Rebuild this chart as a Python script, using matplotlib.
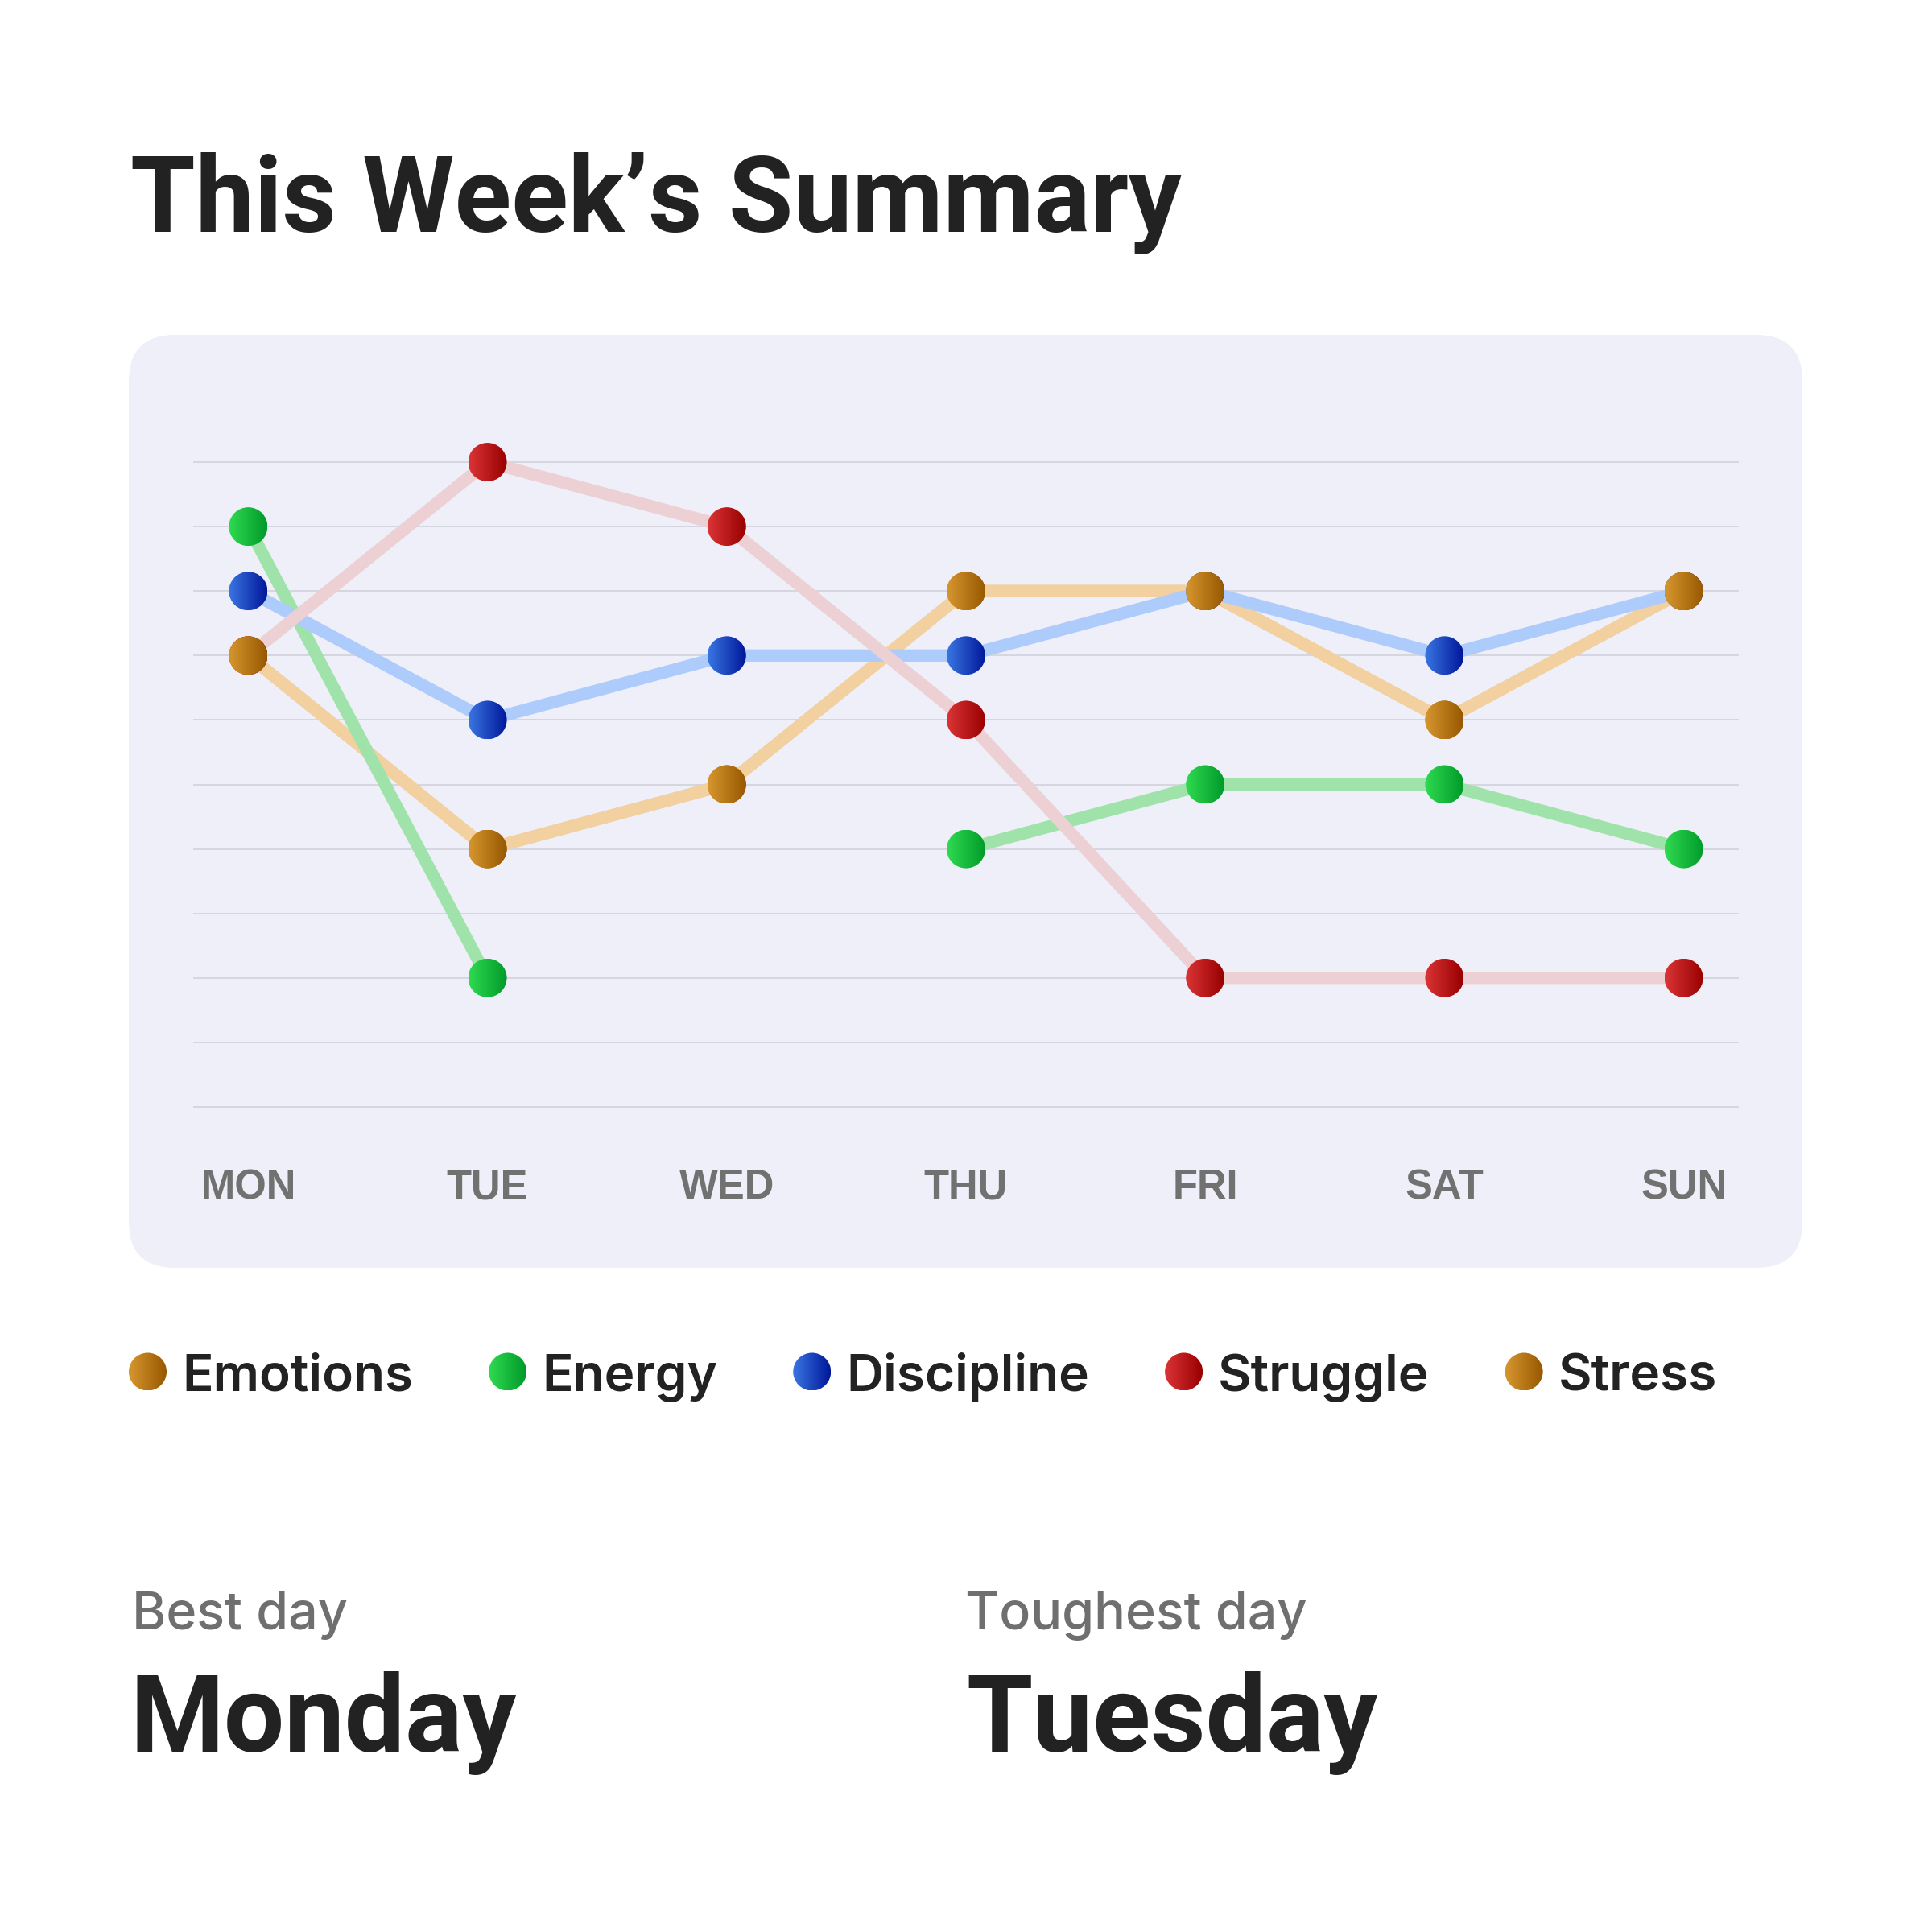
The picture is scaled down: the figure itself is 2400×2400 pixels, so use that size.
import numpy as np
import matplotlib
matplotlib.use('Agg')
import matplotlib.pyplot as plt
from matplotlib.patches import FancyBboxPatch, Ellipse
from matplotlib.colors import to_rgb

# data (scale 0-10)
days = ['MON', 'TUE', 'WED', 'THU', 'FRI', 'SAT', 'SUN']
series_names = ['Emotions', 'Energy', 'Discipline', 'Struggle', 'Stress']
emotions = [7, 4, 5, 8, 8, 6, 8]
energy = [9, 2, np.nan, 4, 5, 5, 4]
discipline = [8, 6, 7, 7, 8, 7, 8]
struggle = [7, 10, 9, 6, 2, 2, 2]
stress = [7, 4, 5, 8, 8, 6, 8]
best_day = 'Monday'
toughest_day = 'Tuesday'

series = {'Emotions': emotions, 'Energy': energy, 'Discipline': discipline,
          'Struggle': struggle, 'Stress': stress}
line_col = {'Emotions': '#f2d09f', 'Energy': '#9fe3aa', 'Discipline': '#adcbfb',
            'Struggle': '#edd0d3', 'Stress': '#f2d09f'}
ball_col = {'Emotions': ('#d6962f', '#975800'), 'Energy': ('#30da50', '#009a2a'),
            'Discipline': ('#3a76e2', '#00179a'), 'Struggle': ('#da3436', '#990000'),
            'Stress': ('#d6962f', '#975800')}

W = 2400
DARK = '#222222'
GRAY = '#6f6f6f'
FONT = 'Inter'
HEAD = 'Roboto'


def fx(px):
    return px / W


def fy(py):
    return 1 - py / W


def ball(ax, x, y, rx, ry, c1, c2, z):
    t = np.linspace(0, 1, 64)[:, None]
    img = (np.array(to_rgb(c1)) * (1 - t) + np.array(to_rgb(c2)) * t)[None, :, :]
    im = ax.imshow(img, extent=(x - rx, x + rx, y - ry, y + ry), aspect='auto',
                   interpolation='bilinear', zorder=z, origin='lower')
    im.set_clip_path(Ellipse((x, y), 2 * rx, 2 * ry, transform=ax.transData))


fig = plt.figure(figsize=(24, 24), dpi=100)
fig.patch.set_facecolor('white')

# rounded panel
panel = FancyBboxPatch((fx(160), fy(1575)), (2239 - 160) / W, (1575 - 416) / W,
                       boxstyle='round,pad=0,rounding_size=0.024',
                       transform=fig.transFigure, facecolor='#eeeff8',
                       edgecolor='none', zorder=0)
fig.add_artist(panel)

# chart
ax = fig.add_axes([fx(240), fy(1415), 1920 / W, 881 / W])
ax.set_facecolor('none')
ax.set_xlim(-0.23, 6.23)
ax.set_ylim(-0.5, 10.5)
for s in ax.spines.values():
    s.set_visible(False)
ax.set_yticks([])
ax.set_xticks(range(len(days)), days)
ax.tick_params(axis='x', length=0, pad=26, labelsize=36.5, labelcolor='#717171')
for lab in ax.get_xticklabels():
    lab.set_fontfamily('Liberation Sans')
    lab.set_fontweight('bold')

for v in range(11):
    ax.axhline(v, color='#d6d6e0', lw=1.4, zorder=1)

x = np.arange(len(days))
for name in ['Emotions', 'Stress', 'Energy', 'Discipline', 'Struggle']:
    ax.plot(x, series[name], color=line_col[name], lw=11, zorder=2,
            solid_capstyle='butt')

o = ax.transData.transform((0, 0))
sx = ax.transData.transform((1, 0))[0] - o[0]
sy = ax.transData.transform((0, 1))[1] - o[1]
r = 24
for k, name in enumerate(series_names):
    c1, c2 = ball_col[name]
    for xi, yi in zip(x, series[name]):
        if np.isnan(yi):
            continue
        ball(ax, xi, yi, r / sx, r / sy, c1, c2, 3 + k)
ax.set_xlim(-0.23, 6.23)
ax.set_ylim(-0.5, 10.5)

# overlay for title, legend and summary
lax = fig.add_axes([0, 0, 1, 1])
lax.set_xlim(0, W)
lax.set_ylim(W, 0)
lax.axis('off')
lax.patch.set_visible(False)

lax.text(162, 288, 'This Week\u2019s Summary', fontsize=94, fontweight='bold',
         family=HEAD, color=DARK, va='baseline', ha='left')

renderer = fig.canvas.get_renderer()
xpos = 160
for name in series_names:
    c1, c2 = ball_col[name]
    ball(lax, xpos + 23.5, 1704, 23.5, 23.5, c1, c2, 5)
    t = lax.text(xpos + 66, 1728, name, fontsize=46, fontweight='semibold',
                 family=FONT, color=DARK, va='baseline', ha='left')
    bb = t.get_window_extent(renderer)
    xpos = bb.x1 + 94
lax.set_xlim(0, W)
lax.set_ylim(W, 0)

lax.text(164, 2024, 'Best day', fontsize=46.5, fontweight='medium', family=FONT,
         color=GRAY, va='baseline')
lax.text(1199, 2024, 'Toughest day', fontsize=46.5, fontweight='medium', family=FONT,
         color=GRAY, va='baseline')
lax.text(162, 2176, best_day, fontsize=96, fontweight='bold', family=HEAD,
         color=DARK, va='baseline')
lax.text(1200, 2176, toughest_day, fontsize=96, fontweight='bold', family=HEAD,
         color=DARK, va='baseline')

fig.savefig('out.png', dpi=100, facecolor='white')
